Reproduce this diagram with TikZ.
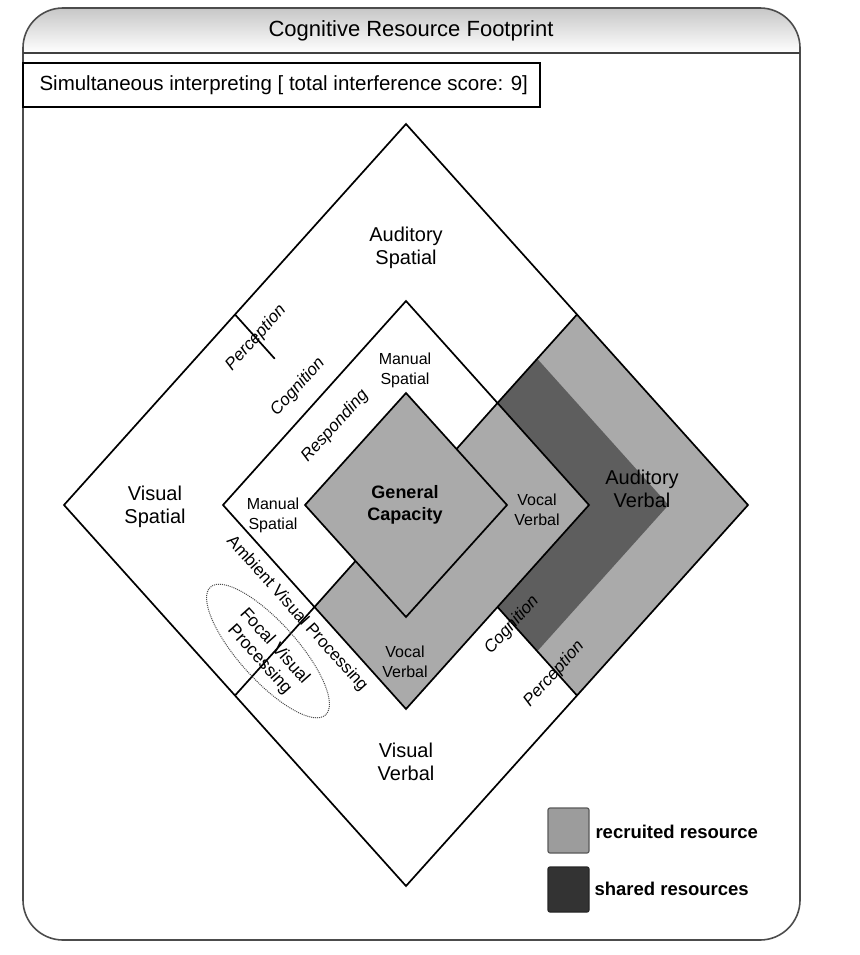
\documentclass[tikz,border=0pt]{standalone}
\usepackage{fontspec}
\setmainfont{Liberation Sans}
\usepackage{tikz}
\usetikzlibrary{calc}

\definecolor{recruited}{RGB}{170,170,170}
\definecolor{shared}{RGB}{94,94,94}

\begin{document}
\begin{tikzpicture}[x=1pt, y=-1pt,
	wall/.style={black, line width=1.7pt},
	zone/.style={font=\fontsize{20}{23}\selectfont, align=center},
	subzone/.style={font=\fontsize{16}{20}\selectfont, align=center},
	stage/.style={font=\fontsize{17}{19}\selectfont\itshape, rotate=48},
	keytext/.style={font=\fontsize{18.5}{20}\selectfont\bfseries, anchor=west}]
	\useasboundingbox (0,0) rectangle (859,955);

	\shade[top color=black!22, bottom color=white] (23,53) [rounded corners=40] -- (23,8) -- (800,8) [sharp corners] -- (800,53) -- cycle;
	\draw[black!70, line width=1.6pt, rounded corners=40] (23,8) rectangle (800,940);
	\draw[black!75, line width=2pt] (23,53) -- (800,53);
	\node[font=\fontsize{22}{24}\selectfont] (title) at (411,31) {Cognitive Resource Footprint};
	\draw[black, line width=1.4pt] (23,63) rectangle (540,107);
	\node[font=\fontsize{20.5}{22}\selectfont, anchor=west] (task) at (36,85) {Simultaneous interpreting [ total interference score: 9]};

	\coordinate (Ot) at (406,124);
	\coordinate (Or) at (748,505);
	\coordinate (Ob) at (406,886);
	\coordinate (Ol) at (64,505);
	\coordinate (Mt) at (406,301);
	\coordinate (Mr) at (589,505);
	\coordinate (Mb) at (406,709);
	\coordinate (Ml) at (223,505);
	\coordinate (Gt) at (406,393);
	\coordinate (Gr) at (507,505);
	\coordinate (Gb) at (406,617);
	\coordinate (Gl) at (305,505);
	\coordinate (Oul) at ($(Ol)!0.5!(Ot)$);
	\coordinate (Our) at ($(Ot)!0.5!(Or)$);
	\coordinate (Olr) at ($(Or)!0.5!(Ob)$);
	\coordinate (Oll) at ($(Ob)!0.5!(Ol)$);
	\coordinate (Mul) at ($(Ml)!0.5!(Mt)$);
	\coordinate (Mur) at ($(Mt)!0.5!(Mr)$);
	\coordinate (Mlr) at ($(Mr)!0.5!(Mb)$);
	\coordinate (Mll) at ($(Mb)!0.5!(Ml)$);
	\coordinate (Gur) at ($(Gt)!0.5!(Gr)$);
	\coordinate (Gll) at ($(Gb)!0.5!(Gl)$);
	\coordinate (Dur) at ($(Mur)!0.5!(Our)$);
	\coordinate (Dr) at ($(Mr)!0.5!(Or)$);
	\coordinate (Dlr) at ($(Mlr)!0.5!(Olr)$);
	\coordinate (Tul) at ($(Oul)!0.5!(Mul)$);

	\fill[recruited] (Our) -- (Or) -- (Olr) -- (Mlr) -- (Mr) -- (Mur) -- cycle;
	\fill[shared] (Mur) -- (Dur) -- (Dr) -- (Dlr) -- (Mlr) -- (Mr) -- cycle;
	\fill[recruited] (Mur) -- (Mr) -- (Mb) -- (Mll) -- (Gll) -- (Gb) -- (Gr) -- (Gur) -- cycle;
	\fill[recruited] (Gt) -- (Gr) -- (Gb) -- (Gl) -- cycle;

	\draw[wall] (Ot) -- (Or) -- (Ob) -- (Ol) -- cycle;
	\draw[wall] (Mt) -- (Mr) -- (Mb) -- (Ml) -- cycle;
	\draw[wall] (Gt) -- (Gr) -- (Gb) -- (Gl) -- cycle;
	\draw[wall] (Mur) -- (Our);
	\draw[wall] (Mlr) -- (Olr);
	\draw[wall] (Mll) -- (Oll);
	\draw[wall] (Oul) -- (Tul);
	\draw[wall] (Gur) -- (Mur);
	\draw[wall] (Gll) -- (Mll);

	\draw[black!70, densely dotted, line width=1pt, rotate around={-48:(268,651)}] (268,651) ellipse (86 and 29);

	\node[zone] (audsp) at (406,248) {Auditory\\Spatial};
	\node[zone] (vissp) at (155,507) {Visual\\Spatial};
	\node[zone] (audvb) at (642,489) {Auditory\\Verbal};
	\node[zone] (visvb) at (406,762) {Visual\\Verbal};
	\node[subzone] (mansp1) at (405,370) {Manual\\Spatial};
	\node[subzone] (mansp2) at (273,515) {Manual\\Spatial};
	\node[subzone] (vocvb1) at (537,510) {Vocal\\Verbal};
	\node[subzone] (vocvb2) at (405,662) {Vocal\\Verbal};
	\node[font=\fontsize{18}{22}\selectfont\bfseries, align=center] (general) at (405,505) {General\\Capacity};

	\node[stage] (perc1) at (256,338) {Perception};
	\node[stage] (cogn1) at (298,387) {Cognition};
	\node[stage] (resp) at (335,426) {Responding};
	\node[stage] (cogn2) at (512,625) {Cognition};
	\node[stage] (perc2) at (554,674) {Perception};
	\node[font=\fontsize{17}{19}\selectfont, rotate=-48] (ambient) at (297,614) {Ambient Visual Processing};
	\node[font=\fontsize{17.5}{20}\selectfont, rotate=-48, align=center] (focal) at (267,653) {Focal Visual\\Processing};

	\filldraw[fill=recruited!92!black, draw=black!65, line width=1.2pt, rounded corners=2] (548,808) rectangle (589,853);
	\filldraw[fill=black!80, draw=black!85, line width=1.2pt, rounded corners=2] (548,867) rectangle (589,912);
	\node[keytext] (keyrec) at (592,832) {recruited resource};
	\node[keytext] (keyshr) at (591,889) {shared resources};
\end{tikzpicture}
\end{document}
